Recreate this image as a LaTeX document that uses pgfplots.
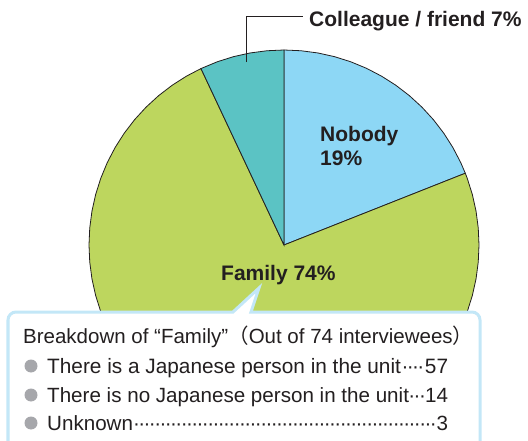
\documentclass[border=0pt]{standalone}
\usepackage{pgfplots}
\pgfplotsset{compat=1.18}
\usepackage{fontspec}
\setmainfont{Liberation Sans}
\newfontfamily\cjk{Noto Sans CJK JP}
\definecolor{nobodyc}{RGB}{141,215,245}
\definecolor{familyc}{RGB}{189,214,94}
\definecolor{colleaguec}{RGB}{91,195,196}
\definecolor{txt}{RGB}{35,31,32}
\definecolor{boxblue}{RGB}{195,231,247}
\definecolor{bulletgray}{RGB}{166,167,171}
\newcommand\dotlead{\cleaders\hbox to 5.3bp{\hss·\hss}\hfill}
\begin{document}
\begin{tikzpicture}
\clip (0,0) rectangle (528bp,-441bp);
\useasboundingbox (0,0) rectangle (528bp,-441bp);
\begin{axis}[at={(0,0)}, anchor=north west,
  width=528bp, height=441bp, scale only axis,
  axis lines=none,
  xmin=-1.4564, xmax=1.2513, ymin=-1.0051, ymax=1.2564]
% Nobody 19% : 90 -> 21.6 deg
\addplot[fill=nobodyc, draw=txt, line width=0.8bp, data cs=polar] coordinates {
(0,0) (90,1) (85,1) (80,1) (75,1) (70,1) (65,1) (60,1) (55,1) (50,1) (45,1) (40,1) (35,1) (30,1) (25,1) (21.6,1)
} -- cycle;
% Family 74% : 21.6 -> -244.8 deg
\addplot[fill=familyc, draw=txt, line width=0.8bp, data cs=polar] coordinates {
(0,0) (21.6,1) (20,1) (15,1) (10,1) (5,1) (0,1) (-5,1) (-10,1) (-15,1) (-20,1) (-25,1) (-30,1) (-35,1) (-40,1) (-45,1) (-50,1) (-55,1) (-60,1) (-65,1) (-70,1) (-75,1) (-80,1) (-85,1) (-90,1) (-95,1) (-100,1) (-105,1) (-110,1) (-115,1) (-120,1) (-125,1) (-130,1) (-135,1) (-140,1) (-145,1) (-150,1) (-155,1) (-160,1) (-165,1) (-170,1) (-175,1) (-180,1) (-185,1) (-190,1) (-195,1) (-200,1) (-205,1) (-210,1) (-215,1) (-220,1) (-225,1) (-230,1) (-235,1) (-240,1) (-244.8,1)
} -- cycle;
% Colleague / friend 7% : 115.2 -> 90 deg
\addplot[fill=colleaguec, draw=txt, line width=0.8bp, data cs=polar] coordinates {
(0,0) (115.2,1) (110,1) (105,1) (100,1) (95,1) (90,1)
} -- cycle;
\end{axis}
\begin{scope}[x=1bp,y=-1bp]
% leader line for colleague label
\draw[txt, line width=0.9bp] (246,62) -- (246,16) -- (303,16);
\node[anchor=base west, inner sep=0, text=txt, font=\fontsize{21bp}{24bp}\selectfont\bfseries] at (309,26) {Colleague / friend 7\%};
\node[anchor=base west, inner sep=0, text=txt, font=\fontsize{21bp}{24bp}\selectfont\bfseries] at (320,141) {Nobody};
\node[anchor=base west, inner sep=0, text=txt, font=\fontsize{21bp}{24bp}\selectfont\bfseries] at (320,165) {19\%};
\node[anchor=base west, inner sep=0, text=txt, font=\fontsize{21bp}{24bp}\selectfont\bfseries] at (221,280) {Family 74\%};
% callout box
\path[fill=white, draw=boxblue, line width=3bp]
  (8,470) -- (8,320) arc[start angle=180, end angle=270, radius=8]
  -- (233,312) -- (259,288) -- (251,312)
  -- (472,312) arc[start angle=270, end angle=360, radius=8] -- (480,470);
\node[anchor=base west, inner sep=0, text=txt, font=\fontsize{20.5bp}{29bp}\selectfont] at (23,343)
  {Breakdown of “Family”{\cjk （}Out of 74 interviewees{\cjk ）}};
\fill[bulletgray] (31,366) circle (6.5);
\fill[bulletgray] (31,395) circle (6.5);
\fill[bulletgray] (31,423) circle (6.5);
\node[anchor=base west, inner sep=0, text=txt, font=\fontsize{20.8bp}{29bp}\selectfont] at (47,373)
  {\makebox[401bp][l]{There is a Japanese person in the unit\dotlead 57}};
\node[anchor=base west, inner sep=0, text=txt, font=\fontsize{20.6bp}{29bp}\selectfont] at (47,402)
  {\makebox[401bp][l]{There is no Japanese person in the unit\dotlead 14}};
\node[anchor=base west, inner sep=0, text=txt, font=\fontsize{20.6bp}{29bp}\selectfont] at (47,430)
  {\makebox[401bp][l]{Unknown\dotlead 3}};
\end{scope}
\end{tikzpicture}
\end{document}
